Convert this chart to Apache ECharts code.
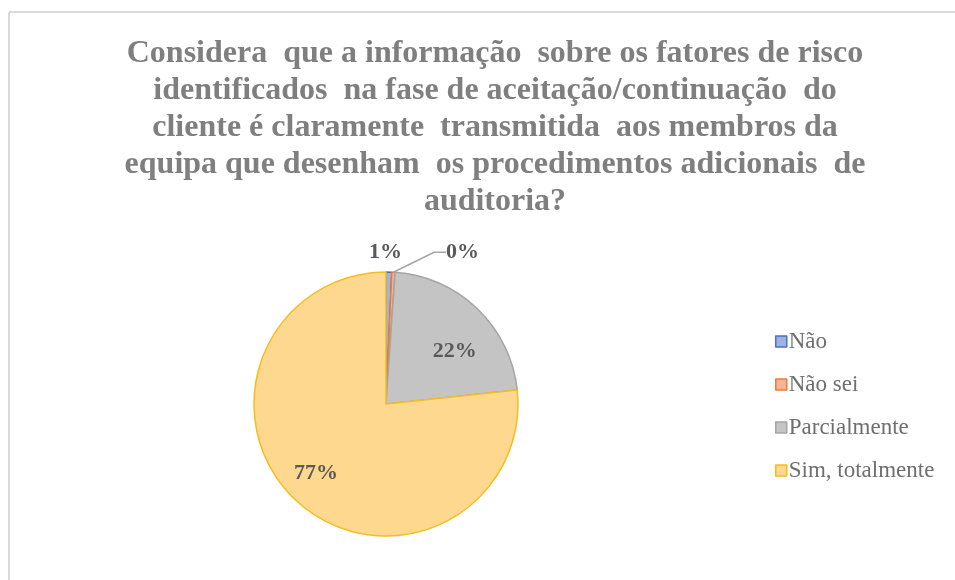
<!DOCTYPE html>
<html>
<head>
<meta charset="utf-8">
<script src="https://cdn.jsdelivr.net/npm/echarts@6/dist/echarts.min.js"></script>
<style>html,body{margin:0;padding:0;background:#fff}#c{width:955px;height:580px}</style>
</head>
<body>
<div id="c"></div>
<script>
const titleText = "Considera  que a informação  sobre os fatores de risco\nidentificados  na fase de aceitação/continuação  do\ncliente é claramente  transmitida  aos membros da\nequipa que desenham  os procedimentos adicionais  de\nauditoria?";
const categories = ["Não", "Não sei", "Parcialmente", "Sim, totalmente"];
const values = [0.7, 0.4, 22.2, 76.7];
const fillColors = ["#9fb3e3", "#f3b49b", "#c4c4c4", "#fed88e"];
const borderColors = ["#4472c4", "#ed7d31", "#a5a5a5", "#f7bd1e"];
const labelOffsets = [[0, 0], [0, 0], [21, -3], [-24, 18]];
const labelShifts = [[-37, -10], [35, -10], [0, 0], [0, 0]];

const chart = echarts.init(document.getElementById('c'), null, {renderer: 'canvas'});
const data = categories.map((name, i) => ({
  name: name,
  value: values[i],
  itemStyle: {color: fillColors[i], borderColor: borderColors[i], borderWidth: 1.5},
  label: i < 2 ? {position: 'outside'} : {position: 'inside', offset: labelOffsets[i]},
  labelLine: {show: i < 2, length: 10, length2: 12, lineStyle: {color: '#a5a5a5', width: 1.5, opacity: i === 1 ? 1 : 0}}
}));

chart.setOption({
  animation: false,
  backgroundColor: '#fff',
  title: {
    text: titleText,
    left: 490,
    top: 30,
    textAlign: 'center',
    textStyle: {fontFamily: 'Liberation Serif', fontWeight: 'bold', fontSize: 32, color: '#7f7f7f', lineHeight: 37}
  },
  legend: {
    orient: 'vertical',
    left: 775,
    top: 330,
    padding: 0,
    itemWidth: 11,
    itemHeight: 11,
    itemGap: 20,
    itemStyle: {borderWidth: 1.5},
    icon: 'rect',
    textStyle: {fontFamily: 'Liberation Serif', fontSize: 23, color: '#6f6f6f', padding: [0, 0, 0, -3]},
    data: categories
  },
  graphic: [
    {type: 'line', shape: {x1: 9, y1: 12, x2: 955, y2: 12}, style: {stroke: '#d9d9d9', lineWidth: 2}},
    {type: 'line', shape: {x1: 9, y1: 12, x2: 9, y2: 580}, style: {stroke: '#d9d9d9', lineWidth: 2}}
  ],
  series: [{
    type: 'pie',
    center: [386, 404],
    radius: [0, 132],
    startAngle: 90,
    clockwise: true,
    avoidLabelOverlap: false,
    data: data,
    label: {
      formatter: p => Math.round(p.value) + '%',
      fontFamily: 'Liberation Serif',
      fontWeight: 'bold',
      fontSize: 22,
      color: '#595959'
    },
    labelLayout: p => {
      const s = labelShifts[p.dataIndex];
      if (p.dataIndex === 1) {
        return {x: p.labelRect.x + s[0], y: p.labelRect.y + p.labelRect.height / 2 + s[1]};
      }
      return {dx: s[0], dy: s[1]};
    },
    emphasis: {disabled: true}
  }]
});
</script>
</body>
</html>
